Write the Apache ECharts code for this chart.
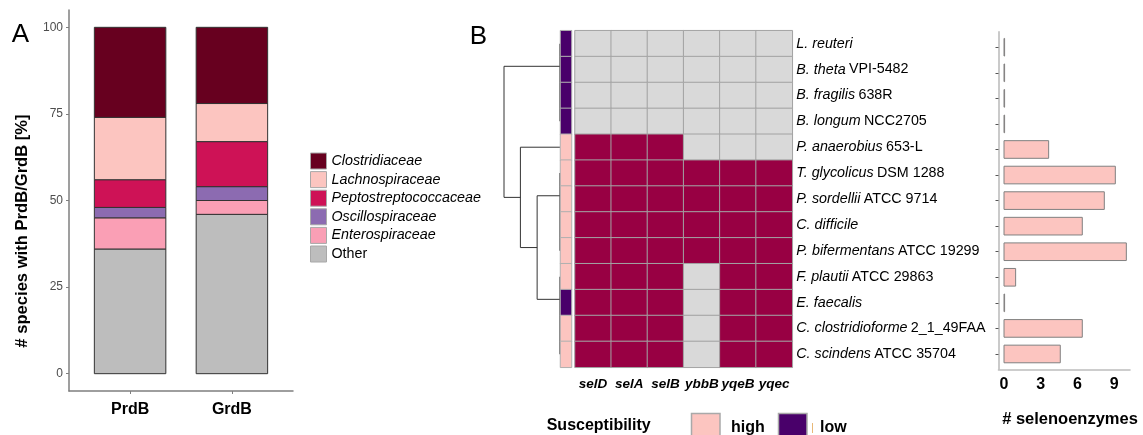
<!DOCTYPE html>
<html><head><meta charset="utf-8">
<script src="https://cdn.jsdelivr.net/npm/echarts@6/dist/echarts.min.js"></script>
<style>html,body{margin:0;padding:0;background:#fff}#c{width:1143px;height:435px}</style>
</head><body><div id="c"></div>
<script>
const FONT = '"Liberation Sans", Arial, Helvetica, sans-serif';

// ---------- Panel A data ----------
const groups = ['PrdB', 'GrdB'];
const familyOrder = ['Other', 'Enterospiraceae', 'Oscillospiraceae', 'Peptostreptococcaceae', 'Lachnospiraceae', 'Clostridiaceae'];
const otherPct = [36, 46];
const enteroPct = [9, 4];
const oscilloPct = [3, 4];
const peptoPct = [8, 13];
const lachnoPct = [18, 11];
const clostPct = [26, 22];
const yTicksA = [0, 25, 50, 75, 100];

// ---------- Panel B data ----------
const species = ['L. reuteri', 'B. theta', 'B. fragilis', 'B. longum', 'P. anaerobius', 'T. glycolicus', 'P. sordellii', 'C. difficile', 'P. bifermentans', 'F. plautii', 'E. faecalis', 'C. clostridioforme', 'C. scindens'];
const strains = ['', 'VPI-5482', '638R', 'NCC2705', '653-L', 'DSM 1288', 'ATCC 9714', '', 'ATCC 19299', 'ATCC 29863', '', '2_1_49FAA', 'ATCC 35704'];
const genes = ['selD', 'selA', 'selB', 'ybbB', 'yqeB', 'yqec'];
const presence = [
  [0,0,0,0,0,0],
  [0,0,0,0,0,0],
  [0,0,0,0,0,0],
  [0,0,0,0,0,0],
  [1,1,1,0,0,0],
  [1,1,1,1,1,1],
  [1,1,1,1,1,1],
  [1,1,1,1,1,1],
  [1,1,1,1,1,1],
  [1,1,1,0,1,1],
  [1,1,1,0,1,1],
  [1,1,1,0,1,1],
  [1,1,1,0,1,1]
];
const susceptibility = ['low','low','low','low','high','high','high','high','high','high','low','high','high'];
const selenoenzymes = [0, 0, 0, 0, 3.65, 9.1, 8.2, 6.4, 10, 0.95, 0, 6.4, 4.6];
const xTicksB = [0, 3, 6, 9];
// dendrogram merges: [left, right, height]; >=0 leaf row, <0 = earlier merge (-1 => merge 0)
const dendroMerges = [
  [2, 3, 0], [1, -1, 0], [0, -2, 0],
  [7, 8, 0], [6, -4, 0], [5, -5, 0],
  [11, 12, 0], [10, -7, 0], [9, -8, 0],
  [-6, -9, 1], [4, -10, 1.732], [-3, -11, 2.449]
];

// ---------- build ----------
const famColors = {
  'Clostridiaceae': '#67001f', 'Lachnospiraceae': '#fcc5c0', 'Peptostreptococcaceae': '#ce1256',
  'Oscillospiraceae': '#8c6bb1', 'Enterospiraceae': '#fa9fb5', 'Other': '#bdbdbd'
};
const famValues = {
  'Other': otherPct, 'Enterospiraceae': enteroPct, 'Oscillospiraceae': oscilloPct,
  'Peptostreptococcaceae': peptoPct, 'Lachnospiraceae': lachnoPct, 'Clostridiaceae': clostPct
};

const pos = [], hgt = [], segs = [];
const nPos = n => n >= 0 ? n : pos[-n - 1];
const nH = n => n >= 0 ? 0 : hgt[-n - 1];
dendroMerges.forEach((m, k) => {
  const [a, b, h] = m;
  const pa = nPos(a), pb = nPos(b);
  pos[k] = (pa + pb) / 2; hgt[k] = h;
  segs.push([h, pa, h, pb]);
  if (h > nH(a)) segs.push([h, pa, nH(a), pa]);
  if (h > nH(b)) segs.push([h, pb, nH(b), pb]);
});

const rowIdx = species.map((s, i) => i);
const heatData = [];
presence.forEach((row, i) => row.forEach((v, j) => heatData.push([j, i, v])));
const susData = susceptibility.map((s, i) => [0, i, s === 'low' ? 1 : 0]);
const barData = selenoenzymes.map((v, i) => [v, i]);

const TOP = 30.7, H = 336.6;

const cum = groups.map(() => 0);
const barSeries = familyOrder.map(f => {
  const data = groups.map((g, i) => {
    const b = cum[i]; cum[i] += famValues[f][i];
    return [i + 1, b, cum[i]];
  });
  return {
    name: f, type: 'custom', xAxisIndex: 0, yAxisIndex: 0, data: data, silent: true,
    itemStyle: { color: famColors[f], borderColor: '#333', borderWidth: 1 },
    renderItem: (params, api) => {
      const x = api.value(0), b = api.value(1), t = api.value(2);
      const w = api.size([0.702, 0])[0];
      const p0 = api.coord([x, b]), p1 = api.coord([x, t]);
      return { type: 'rect', shape: { x: p0[0] - w / 2, y: p1[1], width: w, height: p0[1] - p1[1] },
        style: { fill: famColors[f], stroke: '#333', lineWidth: 1 } };
    }
  };
});

const option = {
  animation: false,
  textStyle: { fontFamily: FONT },
  grid: [
    { left: 69, top: 10, width: 224, height: 381 },
    { left: 504, top: TOP, width: 56, height: H },
    { left: 560.5, top: TOP, width: 11, height: H },
    { left: 575, top: TOP, width: 217.3, height: H },
    { left: 998.5, top: 31.9, width: 131.5, height: 337.4 }
  ],
  xAxis: [
    { gridIndex: 0, type: 'value', min: 0.4, max: 2.6,
      axisLine: { show: true, onZero: false, lineStyle: { color: '#7f7f7f', width: 1.5 } },
      axisTick: { show: true, customValues: [1, 2], length: 3, lineStyle: { color: '#7f7f7f' } },
      axisLabel: { customValues: [1, 2], formatter: v => groups[Math.round(v) - 1], fontSize: 16, fontWeight: 'bold', color: '#000', margin: 11, fontFamily: FONT },
      splitLine: { show: false } },
    { gridIndex: 1, type: 'value', min: 0, max: 2.449, inverse: true, show: false },
    { gridIndex: 2, type: 'category', data: ['s'], show: false },
    { gridIndex: 3, type: 'category', data: genes, position: 'bottom',
      axisLine: { show: false }, axisTick: { show: false },
      axisLabel: { interval: 0, fontSize: 13.5, fontWeight: 'bold', fontStyle: 'italic', color: '#000', margin: 10, fontFamily: FONT } },
    { gridIndex: 4, type: 'value', min: -0.45, max: 10.3,
      axisLine: { show: true, onZero: false, lineStyle: { color: '#bdbdbd', width: 1.6 } },
      axisTick: { show: false },
      axisLabel: { customValues: xTicksB, fontSize: 16, fontWeight: 'bold', color: '#000', margin: 7, fontFamily: FONT },
      splitLine: { show: false } }
  ],
  yAxis: [
    { gridIndex: 0, type: 'value', min: -5, max: 105,
      axisLine: { show: true, onZero: false, lineStyle: { color: '#7f7f7f', width: 1.5 } },
      axisTick: { show: true, customValues: yTicksA, length: 3, lineStyle: { color: '#7f7f7f' } },
      axisLabel: { customValues: yTicksA, fontSize: 12, color: '#4d4d4d', margin: 6, fontFamily: FONT },
      splitLine: { show: false } },
    { gridIndex: 1, type: 'value', min: -0.5, max: 12.5, inverse: true, show: false },
    { gridIndex: 2, type: 'category', data: rowIdx, inverse: true, show: false },
    { gridIndex: 3, type: 'category', data: rowIdx, inverse: true, position: 'right',
      axisLine: { show: false }, axisTick: { show: false },
      axisLabel: { interval: 0, margin: 4, fontFamily: FONT,
        formatter: (v, i) => strains[i] ? '{i|' + species[i] + '} {n|' + strains[i] + '}' : '{i|' + species[i] + '}',
        rich: { i: { fontStyle: 'italic', fontSize: 14.3, color: '#000', fontFamily: FONT }, n: { fontSize: 14.3, color: '#000', fontFamily: FONT } } } },
    { gridIndex: 4, type: 'value', min: -0.6, max: 12.6, inverse: true,
      axisLine: { show: true, onZero: false, lineStyle: { color: '#bdbdbd', width: 1.6 } },
      axisTick: { show: true, customValues: rowIdx, length: 3, lineStyle: { color: '#555' } },
      axisLabel: { show: false }, splitLine: { show: false } }
  ],
  legend: {
    data: ['Clostridiaceae', 'Lachnospiraceae', 'Peptostreptococcaceae', 'Oscillospiraceae', 'Enterospiraceae', 'Other'],
    orient: 'vertical', left: 310, top: 152.5, itemWidth: 16, itemHeight: 16, itemGap: 1.6, padding: 0,
    icon: 'rect', selectedMode: false,
    itemStyle: { borderColor: '#a8a8a8', borderWidth: 1 },
    formatter: n => n === 'Other' ? '{n|' + n + '}' : '{i|' + n + '}',
    textStyle: { fontSize: 14, color: '#000', fontFamily: FONT,
      rich: { i: { fontStyle: 'italic', fontSize: 14.3, color: '#000', fontFamily: FONT }, n: { fontSize: 14.3, color: '#000', fontFamily: FONT } } }
  },
  visualMap: [
    { type: 'piecewise', show: false, seriesIndex: 7, dimension: 2,
      pieces: [{ value: 0, color: '#fcc5c0' }, { value: 1, color: '#49006a' }] },
    { type: 'piecewise', show: false, seriesIndex: 8, dimension: 2,
      pieces: [{ value: 0, color: '#d9d9d9' }, { value: 1, color: '#980043' }] }
  ],
  series: barSeries.concat([
    { type: 'custom', xAxisIndex: 1, yAxisIndex: 1, data: segs, silent: true,
      renderItem: (params, api) => {
        const x1 = api.value(0), y1 = api.value(1), x2 = api.value(2), y2 = api.value(3);
        const p1 = api.coord([x1, y1]), p2 = api.coord([x2, y2]);
        const zero = x1 === 0 && x2 === 0;
        return { type: 'line', shape: { x1: p1[0], y1: p1[1], x2: p2[0], y2: p2[1] },
          style: { stroke: zero ? '#808080' : '#333', lineWidth: zero ? 2 : 1 } };
      } },
    { type: 'heatmap', xAxisIndex: 2, yAxisIndex: 2, data: susData, silent: true,
      itemStyle: { borderColor: '#b0b0b0', borderWidth: 1 } },
    { type: 'heatmap', xAxisIndex: 3, yAxisIndex: 3, data: heatData, silent: true,
      itemStyle: { borderColor: '#a3a3a3', borderWidth: 1 } },
    { type: 'custom', xAxisIndex: 4, yAxisIndex: 4, data: barData, silent: true,
      renderItem: (params, api) => {
        const v = api.value(0), r = api.value(1);
        const s = api.coord([0, r]), e = api.coord([v, r]);
        const h = api.size([0, 0.69])[1];
        return { type: 'rect', shape: { x: s[0], y: s[1] - h / 2, width: Math.max(e[0] - s[0], 0.6), height: h },
          style: { fill: '#fcc5c0', stroke: '#808080', lineWidth: 1 } };
      } }
  ]),
  graphic: [
    { type: 'text', x: 20.5, y: 35, style: { text: 'A', fontSize: 26, fontFamily: FONT, fill: '#000', align: 'center', verticalAlign: 'middle' } },
    { type: 'text', x: 478.5, y: 37, style: { text: 'B', fontSize: 26, fontFamily: FONT, fill: '#000', align: 'center', verticalAlign: 'middle' } },
    { type: 'text', x: 22.5, y: 231, rotation: Math.PI / 2, style: { text: '# species with PrdB/GrdB [%]', fontSize: 16.6, fontWeight: 'bold', fontFamily: FONT, fill: '#000', align: 'center', verticalAlign: 'middle' } },
    { type: 'text', x: 1070, y: 419, style: { text: '# selenoenzymes', fontSize: 16.5, fontWeight: 'bold', fontFamily: FONT, fill: '#000', align: 'center', verticalAlign: 'middle' } },
    { type: 'text', x: 546.7, y: 426, style: { text: 'Susceptibility', fontSize: 16, fontWeight: 'bold', fontFamily: FONT, fill: '#000', align: 'left', verticalAlign: 'middle' } },
    { type: 'rect', shape: { x: 691.5, y: 413.5, width: 28.5, height: 30 }, style: { fill: '#fcc5c0', stroke: '#a9a9a9', lineWidth: 1.5 } },
    { type: 'text', x: 731, y: 427.5, style: { text: 'high', fontSize: 16, fontWeight: 'bold', fontFamily: FONT, fill: '#000', align: 'left', verticalAlign: 'middle' } },
    { type: 'rect', shape: { x: 778.5, y: 413.5, width: 28.5, height: 30 }, style: { fill: '#49006a', stroke: '#a9a9a9', lineWidth: 1.5 } },
    { type: 'line', shape: { x1: 812.5, y1: 423, x2: 812.5, y2: 433 }, style: { stroke: '#e8b878', lineWidth: 1 } },
    { type: 'text', x: 820, y: 427.5, style: { text: 'low', fontSize: 16, fontWeight: 'bold', fontFamily: FONT, fill: '#000', align: 'left', verticalAlign: 'middle' } }
  ]
};

const chart = echarts.init(document.getElementById('c'), null, { renderer: 'canvas' });
chart.setOption(option);
</script>
</body></html>
